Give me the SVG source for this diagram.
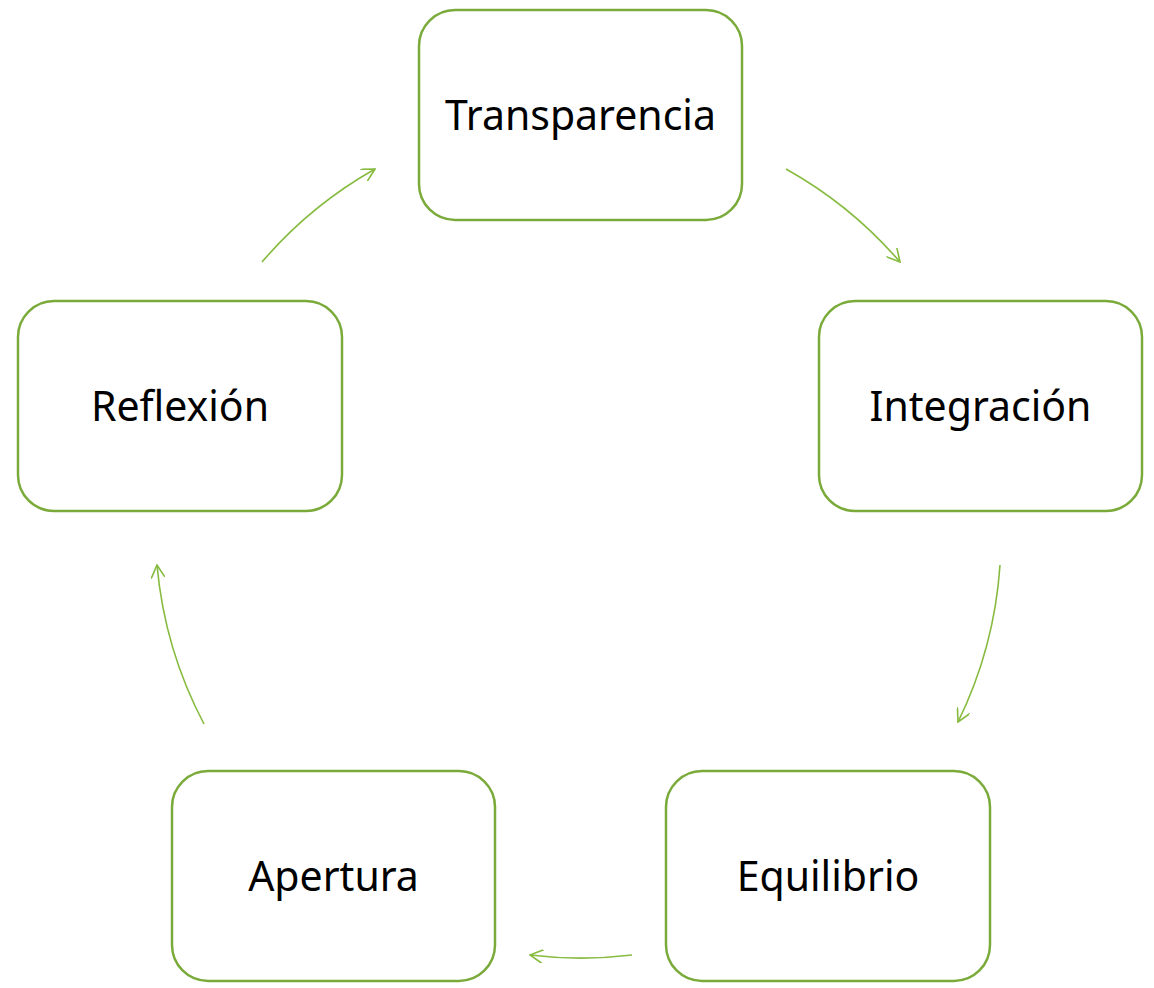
<svg xmlns="http://www.w3.org/2000/svg" width="1154" height="988" viewBox="0 0 1154 988">
<style>
.box{fill:#fff;stroke:#7aab3a;stroke-width:2.5}
.lbl{font-family:"Noto Sans","Open Sans",sans-serif;font-size:41px;fill:#000;text-anchor:middle}
.arc{fill:none;stroke:#86bb3f;stroke-width:1.6}
</style>
<defs>
<marker id="ah" viewBox="0 0 14 14" refX="13" refY="7" markerWidth="14" markerHeight="14" markerUnits="userSpaceOnUse" orient="auto">
<path d="M0,0 L13,7 L0,14" fill="none" stroke="#86bb3f" stroke-width="1.6"/>
</marker>
</defs>
<g id="connectors">
<path class="arc" d="M786,169 A421 421 0 0 1 900,262" marker-end="url(#ah)"/>
<path class="arc" d="M1000,565 A421 421 0 0 1 958,722" marker-end="url(#ah)"/>
<path class="arc" d="M632,955 A421 421 0 0 1 530,955" marker-end="url(#ah)"/>
<path class="arc" d="M204,724 A421 421 0 0 1 157,565" marker-end="url(#ah)"/>
<path class="arc" d="M262,262 A421 421 0 0 1 375,169" marker-end="url(#ah)"/>
</g>
<g id="transparencia"><rect class="box" x="419" y="10" width="323" height="210" rx="36"/><text class="lbl" x="580.5" y="130">Transparencia</text></g>
<g id="integracion"><rect class="box" x="819" y="301" width="323" height="210" rx="36"/><text class="lbl" x="980.5" y="421">Integración</text></g>
<g id="equilibrio"><rect class="box" x="666" y="771" width="324" height="210" rx="36"/><text class="lbl" x="828" y="891">Equilibrio</text></g>
<g id="apertura"><rect class="box" x="172" y="771" width="323" height="210" rx="36"/><text class="lbl" x="333.5" y="891">Apertura</text></g>
<g id="reflexion"><rect class="box" x="18" y="301" width="324" height="210" rx="36"/><text class="lbl" x="180" y="421">Reflexión</text></g>
</svg>
